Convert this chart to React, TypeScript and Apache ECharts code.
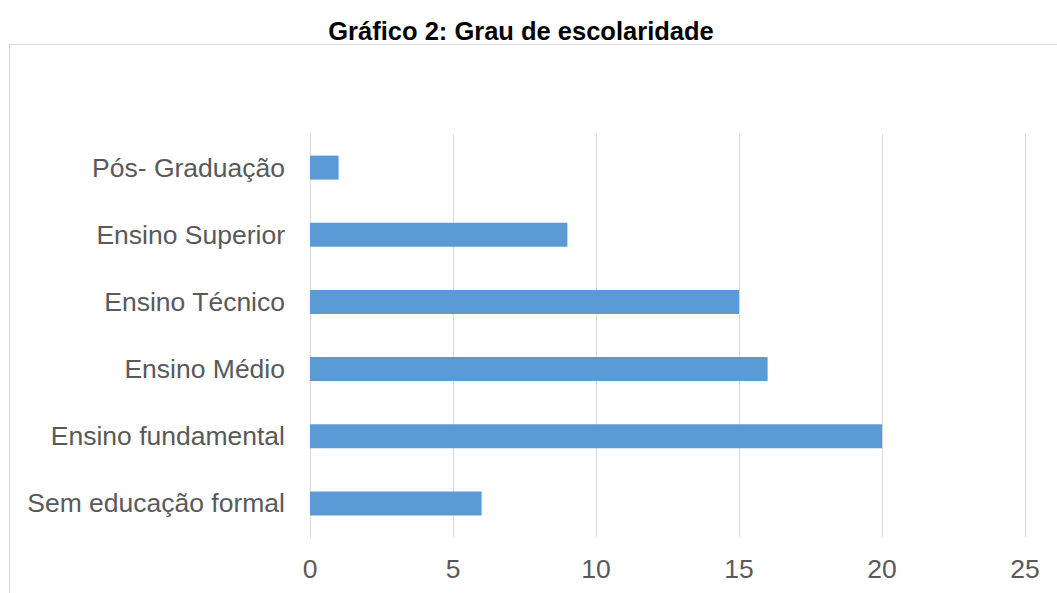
import React, { useEffect, useRef } from "react";
import * as echarts from "echarts";

const categories = [
  "Sem educação formal",
  "Ensino fundamental",
  "Ensino Médio",
  "Ensino Técnico",
  "Ensino Superior",
  "Pós- Graduação",
];
const values = [6, 20, 16, 15, 9, 1];
const titleText = "Gráfico 2: Grau de escolaridade";

export default function App() {
  const ref = useRef<HTMLDivElement>(null);
  useEffect(() => {
    if (!ref.current) return;
    const chart = echarts.init(ref.current, null, { renderer: "svg" });
    chart.setOption({
      animation: false,
      backgroundColor: "#ffffff",
      title: {
        text: titleText,
        left: 516,
        textAlign: "center",
        top: 13,
        textStyle: {
          fontFamily: "Liberation Sans, Arial, sans-serif",
          fontWeight: "bold",
          fontSize: 25.5,
          color: "#000000",
        },
      },
      graphic: [
        {
          type: "rect",
          shape: { x: 9.5, y: 44.5, width: 1200, height: 700 },
          style: { fill: "none", stroke: "#d9d9d9", lineWidth: 1 },
          silent: true,
          z: -1,
        },
      ],
      grid: { left: 310, right: 32, top: 134, bottom: 56, containLabel: false },
      xAxis: {
        type: "value",
        min: 0,
        max: 25,
        interval: 5,
        axisLine: { show: false },
        axisTick: { show: false },
        splitLine: { show: true, lineStyle: { color: "#d9d9d9", width: 1 } },
        axisLabel: {
          fontFamily: "Liberation Sans, Arial, sans-serif",
          fontSize: 26.5,
          color: "#595959",
          margin: 18,
        },
      },
      yAxis: {
        type: "category",
        data: categories,
        axisLine: { show: true, lineStyle: { color: "#d9d9d9", width: 1 } },
        axisTick: { show: false },
        axisLabel: {
          fontFamily: "Liberation Sans, Arial, sans-serif",
          fontSize: 26.5,
          color: "#595959",
          margin: 25,
        },
      },
      series: [
        {
          type: "bar",
          data: values,
          barWidth: 24,
          itemStyle: { color: "#5b9bd5" },
        },
      ],
    });
    return () => chart.dispose();
  }, []);
  return (
    <div
      ref={ref}
      style={{ position: "absolute", left: 0, top: 0, width: 1057, height: 593 }}
    />
  );
}
